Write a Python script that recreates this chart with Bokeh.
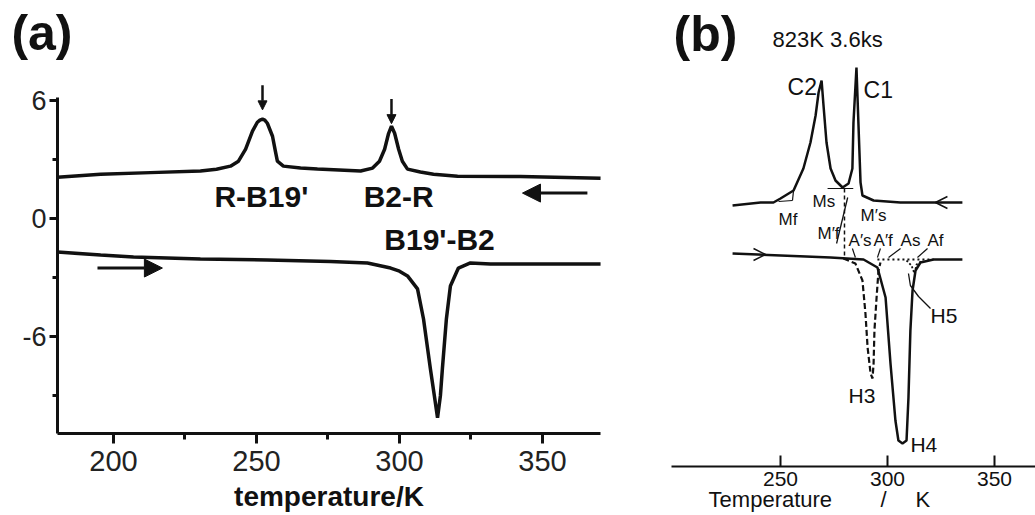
from bokeh.plotting import figure
from bokeh.layouts import row
from bokeh.models import Range1d, FixedTicker, Label, Arrow, NormalHead, OpenHead
from bokeh.embed import file_html
from bokeh.resources import INLINE

# ---------------- panel (a) data : temperature (K) vs heat flow ----------------
a_cool_T = [180.4, 195.5, 212.9, 230.4, 236.0, 240.9, 243.7, 246.2, 248.6, 250.3, 251.2,
            252.1, 252.9, 253.8, 255.6, 256.6, 257.3, 259.4, 265.4, 271.3, 286.4, 290.6,
            293.0, 294.8, 296.2, 297.2, 298.3, 299.7, 301.0, 302.8, 307.3, 311.9, 320.3,
            342.3, 370.3]
a_cool_v = [2.08, 2.23, 2.31, 2.39, 2.48, 2.64, 2.89, 3.50, 4.42, 4.87, 4.98,
            5.03, 4.98, 4.82, 4.16, 3.40, 2.89, 2.64, 2.54, 2.49, 2.39, 2.54,
            2.89, 3.50, 4.31, 4.67, 4.31, 3.50, 2.89, 2.49, 2.34, 2.23, 2.13,
            2.11, 2.03]
a_heat_T = [180.4, 195.5, 207.0, 230.4, 253.8, 275.9, 288.8, 296.9, 300.0, 302.8, 306.3,
            308.4, 310.8, 312.2, 313.3, 314.3, 315.0, 316.4, 317.8, 320.6, 324.8, 331.8,
            370.3]
a_heat_v = [-1.73, -1.88, -1.98, -2.08, -2.13, -2.21, -2.28, -2.54, -2.70, -2.94, -3.60,
            -5.13, -7.66, -9.04, -10.15, -9.04, -7.66, -5.13, -3.45, -2.54, -2.28, -2.34,
            -2.34]
a_xticks = [200, 250, 300, 350]
a_xminor = [225, 275, 325]
a_yticks = [-6, 0, 6]
a_yminor = [-9, -3, 3]

# ---------------- panel (b) data ----------------
b_cool_T = [227.6, 240.7, 246.7, 250.0, 256.1, 260.7, 264.0, 266.4, 267.8, 269.2, 270.1,
            271.5, 273.4, 275.7, 279.0, 281.8, 283.6, 284.1, 285.5, 286.4, 287.4, 288.3,
            293.5, 306.0, 335.0]
b_cool_v = [26.1, 26.4, 26.4, 26.8, 27.6, 29.8, 32.4, 35.1, 37.4, 38.6, 36.1,
            32.4, 29.8, 28.6, 27.9, 28.3, 29.8, 34.4, 39.9, 34.4, 28.4, 27.1,
            26.6, 26.4, 26.4]
b_heat_T = [227.6, 273.4, 288.8, 295.3, 299.1, 301.4, 303.7, 305.1, 307.0, 308.9, 309.8,
            310.7, 311.7, 313.1, 315.4, 321.5, 335.0]
b_heat_v = [21.3, 20.9, 20.7, 19.9, 16.9, 10.3, 4.6, 2.6, 2.3, 2.6, 6.9,
            13.6, 17.6, 19.6, 20.4, 20.7, 20.7]
b_h3_T = [279.4, 285.0, 288.3, 289.7, 290.7, 292.1, 293.0, 293.5, 293.9, 294.9, 295.8, 296.7]
b_h3_v = [20.8, 20.3, 18.6, 15.3, 11.9, 9.3, 8.8, 10.3, 13.6, 16.9, 19.6, 20.4]
b_base_T = [295.3, 321.5]
b_base_v = [20.7, 20.7]
b_h5_T = [308.9, 311.2, 312.6, 313.6, 316.4]
b_h5_v = [20.6, 20.1, 19.3, 20.2, 20.6]
b_xticks = [250, 300, 350]

INK = "#111111"
FONT = "Liberation Sans"

# ================= figure (a) =================
pa = figure(width=640, height=515, x_range=Range1d(160.49, 384.27), y_range=Range1d(-15.12, 11.06),
            output_backend="svg", toolbar_location=None, min_border=0)
pa.outline_line_color = None
pa.xgrid.visible = False
pa.ygrid.visible = False

pa.line(a_cool_T, a_cool_v, line_color=INK, line_width=3.5)
pa.line(a_heat_T, a_heat_v, line_color=INK, line_width=3.5)

xa = pa.xaxis[0]
xa.fixed_location = -10.96
xa.bounds = (180.42, 370.3)
xa.ticker = FixedTicker(ticks=a_xticks, minor_ticks=a_xminor)
xa.axis_line_width = 3
xa.axis_line_color = INK
xa.major_tick_line_width = 3
xa.minor_tick_line_width = 3
xa.major_tick_line_color = INK
xa.minor_tick_line_color = INK
xa.major_tick_in = 0
xa.major_tick_out = 10
xa.minor_tick_in = 0
xa.minor_tick_out = 6
xa.major_label_text_font = FONT
xa.major_label_text_font_size = "29px"
xa.major_label_text_color = "#222222"
xa.major_label_standoff = 7
xa.axis_label = "temperature/K"
xa.axis_label_text_font = FONT
xa.axis_label_text_font_style = "bold"
xa.axis_label_text_font_size = "28px"
xa.axis_label_text_color = INK
xa.axis_label_standoff = 7

ya = pa.yaxis[0]
ya.fixed_location = 180.42
ya.ticker = FixedTicker(ticks=a_yticks, minor_ticks=a_yminor)
ya.bounds = (-10.96, 6.15)
ya.axis_line_width = 3
ya.axis_line_color = INK
ya.major_tick_line_width = 3
ya.minor_tick_line_width = 3
ya.major_tick_line_color = INK
ya.minor_tick_line_color = INK
ya.major_tick_in = 0
ya.major_tick_out = 8
ya.minor_tick_in = 0
ya.minor_tick_out = 5
ya.major_label_text_font = FONT
ya.major_label_text_font_size = "27px"
ya.major_label_text_color = "#222222"
ya.major_label_standoff = 3
ya.major_label_overrides = {-6: "-6", 0: "0", 6: "6"}

# markers on peaks
pa.add_layout(Arrow(end=NormalHead(size=9, fill_color=INK, line_color=INK),
                    x_start=252.1, y_start=6.75, x_end=252.1, y_end=5.5,
                    line_width=2.5, line_color=INK))
pa.add_layout(Arrow(end=NormalHead(size=9, fill_color=INK, line_color=INK),
                    x_start=297.2, y_start=6.05, x_end=297.2, y_end=4.8,
                    line_width=2.5, line_color=INK))
# direction arrows
pa.add_layout(Arrow(end=NormalHead(size=18, fill_color=INK, line_color=INK),
                    x_start=365.7, y_start=1.27, x_end=343.0, y_end=1.27,
                    line_width=3, line_color=INK))
pa.add_layout(Arrow(end=NormalHead(size=18, fill_color=INK, line_color=INK),
                    x_start=194.4, y_start=-2.54, x_end=217.1, y_end=-2.54,
                    line_width=3, line_color=INK))

for txt, x, y in [("R-B19'", 251.7, 1.12), ("B2-R", 299.7, 1.12), ("B19'-B2", 314.0, -1.09)]:
    pa.add_layout(Label(x=x, y=y, text=txt, text_font=FONT, text_font_style="bold",
                        text_font_size="30px", text_color=INK, text_align="center",
                        text_baseline="middle"))
pa.add_layout(Label(x=164.3, y=9.41, text="(a)", text_font=FONT, text_font_style="bold",
                    text_font_size="50px", text_color=INK, text_align="left",
                    text_baseline="middle"))

# ================= figure (b) =================
pb = figure(width=395, height=515, x_range=Range1d(184.58, 369.16), y_range=Range1d(-4.9, 46.6),
            output_backend="svg", toolbar_location=None, y_axis_location=None, min_border=0)
pb.outline_line_color = None
pb.xgrid.visible = False
pb.ygrid.visible = False

pb.line(b_cool_T, b_cool_v, line_color=INK, line_width=2.5)
pb.line(b_heat_T, b_heat_v, line_color=INK, line_width=2.5)
pb.line(b_h3_T, b_h3_v, line_color=INK, line_width=2.2, line_dash="6 3")
pb.line(b_base_T, b_base_v, line_color=INK, line_width=2, line_dash="2 3")
pb.line(b_h5_T, b_h5_v, line_color=INK, line_width=1.8, line_dash="2 2")

# construction / leader lines
pb.line([279.9, 279.9], [27.8, 21.1], line_color=INK, line_width=1.5, line_dash="4 3")
pb.line([276.2, 281.4], [22.3, 26.9], line_color=INK, line_width=1.3)
pb.line([272.0, 284.0], [27.8, 27.8], line_color=INK, line_width=1.2)
pb.line([249.1, 255.6], [26.5, 26.6], line_color=INK, line_width=1.2)
pb.line([255.6, 256.1], [26.6, 27.6], line_color=INK, line_width=1.2)
pb.line([283.6, 285.0], [21.8, 20.9], line_color=INK, line_width=1.2)
pb.line([296.7, 295.3], [21.8, 20.9], line_color=INK, line_width=1.2)
pb.line([306.1, 300.5], [21.8, 20.9], line_color=INK, line_width=1.2)
pb.line([318.7, 314.0], [21.8, 20.9], line_color=INK, line_width=1.2)
pb.line([320.1, 314.5, 310.7, 309.8], [15.8, 17.0, 18.1, 19.3], line_color=INK, line_width=1.3)

pb.add_layout(Arrow(end=OpenHead(size=12, line_color=INK, line_width=1.5),
                    x_start=329.4, y_start=26.4, x_end=322.4, y_end=26.4,
                    line_width=0, line_color=INK))
pb.add_layout(Arrow(end=OpenHead(size=12, line_color=INK, line_width=1.5),
                    x_start=233.6, y_start=21.2, x_end=243.0, y_end=21.2,
                    line_width=0, line_color=INK))

xb = pb.xaxis[0]
xb.fixed_location = 0
xb.bounds = (199.07, 369.16)
xb.ticker = FixedTicker(ticks=b_xticks, minor_ticks=[])
xb.axis_line_width = 2
xb.axis_line_color = INK
xb.major_tick_line_width = 2
xb.major_tick_line_color = INK
xb.major_tick_in = 11
xb.major_tick_out = 0
xb.minor_tick_in = 0
xb.minor_tick_out = 0
xb.major_label_text_font = FONT
xb.major_label_text_font_size = "21px"
xb.major_label_text_color = INK
xb.major_label_standoff = 5

b_labels = [
    ("(b)", 200.0, 43.3, "50px", "bold"),
    ("823K 3.6ks", 246.3, 42.75, "22px", "normal"),
    ("C2", 253.3, 37.95, "23px", "normal"),
    ("C1", 288.8, 37.65, "23px", "normal"),
    ("Mf", 249.1, 24.75, "17px", "normal"),
    ("Ms", 265.0, 26.5, "17px", "normal"),
    ("M′f", 267.3, 23.35, "17px", "normal"),
    ("M′s", 287.4, 25.1, "17px", "normal"),
    ("A′s", 281.8, 22.65, "17px", "normal"),
    ("A′f", 293.5, 22.65, "17px", "normal"),
    ("As", 306.1, 22.65, "17px", "normal"),
    ("Af", 318.7, 22.65, "17px", "normal"),
    ("H5", 320.1, 15.15, "21px", "normal"),
    ("H3", 281.8, 7.15, "21px", "normal"),
    ("H4", 310.7, 2.25, "21px", "normal"),
    ("Temperature", 216.4, -3.25, "22px", "normal"),
    ("/", 296.7, -3.25, "22px", "normal"),
    ("K", 313.1, -3.25, "22px", "normal"),
]
for txt, x, y, size, style in b_labels:
    pb.add_layout(Label(x=x, y=y, text=txt, text_font=FONT, text_font_size=size,
                        text_font_style=style, text_color=INK, text_align="left",
                        text_baseline="middle"))

layout = row(pa, pb)
open("out.html", "w").write(file_html(layout, INLINE))
